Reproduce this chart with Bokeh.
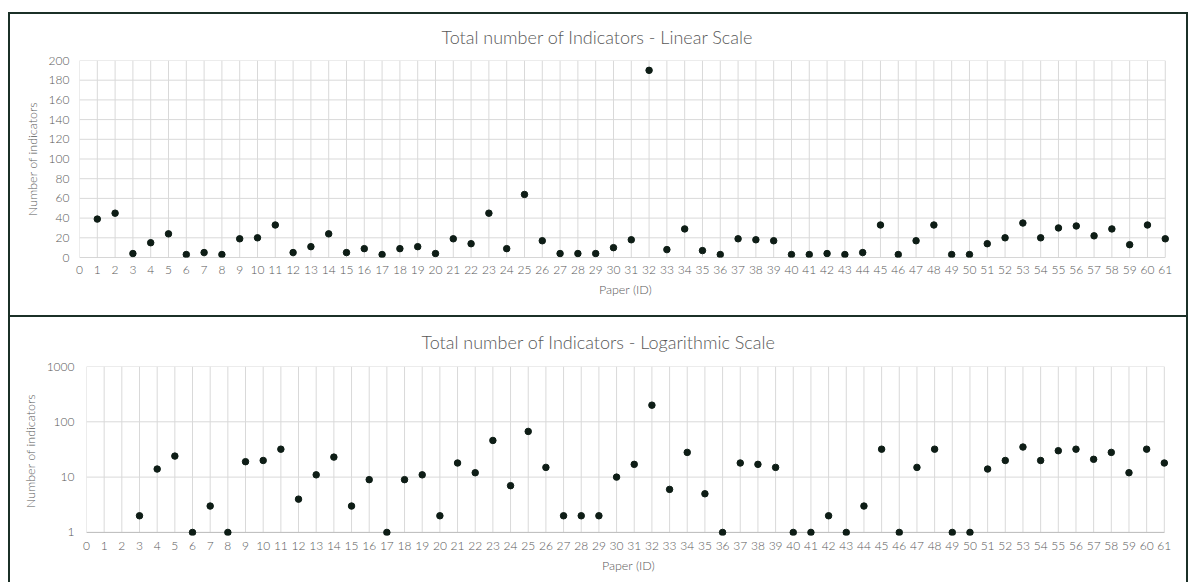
from bokeh.plotting import figure
from bokeh.layouts import column
from bokeh.models import Range1d, FixedTicker, PrintfTickFormatter
from bokeh.embed import file_html
from bokeh.resources import INLINE

# Indicators per paper, as plotted on the linear chart
papers = list(range(1, 62))
linear_counts = [39, 45, 4, 15, 24, 3, 5, 3, 19, 20,
                 33, 5, 11, 24, 5, 9, 3, 9, 11, 4,
                 19, 14, 45, 9, 64, 17, 4, 4, 4, 10,
                 18, 190, 8, 29, 7, 3, 19, 18, 17, 3,
                 3, 4, 3, 5, 33, 3, 17, 33, 3, 3,
                 14, 20, 35, 20, 30, 32, 22, 29, 13, 33, 19]

# Indicators per paper, as plotted on the logarithmic chart (papers 3-61)
log_papers = list(range(3, 62))
log_counts = [2, 14, 24, 1, 3, 1, 19, 20,
              32, 4, 11, 23, 3, 9, 1, 9, 11, 2,
              18, 12, 46, 7, 67, 15, 2, 2, 2, 10,
              17, 200, 6, 28, 5, 1, 18, 17, 15, 1,
              1, 2, 1, 3, 32, 1, 15, 32, 1, 1,
              14, 20, 35, 20, 30, 32, 21, 28, 12, 32, 18]

x_ticks = list(range(0, 62))
linear_ticks = list(range(0, 201, 20))
log_ticks = [1, 10, 100, 1000]

TEXT = "#595959"
GRID = "#d9d9d9"
AXIS = "#bfbfbf"
DOT = "#0e1d16"
FRAME = "#1b3027"
FONT = "'Lato Light', Lato"
X_END = 61.35
WIDTH = 1176


def panel(title, xs, ys, yticks, y_lo, log, height, borders, title_offset,
          title_standoff, label_standoff_x, label_standoff_y):
    p = figure(
        width=WIDTH, height=height,
        x_range=Range1d(0, X_END), y_range=Range1d(y_lo, yticks[-1]),
        y_axis_type="log" if log else "linear",
        output_backend="svg", toolbar_location=None,
        min_border_left=borders[0], min_border_right=borders[1],
        min_border_top=borders[2], min_border_bottom=borders[3],
        background_fill_color="white", border_fill_color="white",
        outline_line_color=None, frame_align=False,
    )
    p.xgrid.visible = False
    p.ygrid.visible = False

    n = len(x_ticks)
    m = len(yticks)
    # gridlines bounded by the first and last tick on each axis
    p.segment(x0=x_ticks, y0=[yticks[0]] * n, x1=x_ticks, y1=[yticks[-1]] * n,
              line_color=GRID, line_width=1)
    p.segment(x0=[x_ticks[0]] * m, y0=yticks, x1=[x_ticks[-1]] * m, y1=yticks,
              line_color=GRID, line_width=1)
    # category axis baseline
    p.segment(x0=[x_ticks[0]], y0=[yticks[0]], x1=[x_ticks[-1]], y1=[yticks[0]],
              line_color=AXIS, line_width=1)

    p.scatter(xs, ys, size=6.5, color=DOT, line_color=DOT)

    p.xaxis.ticker = FixedTicker(ticks=x_ticks)
    p.yaxis.ticker = FixedTicker(ticks=yticks, minor_ticks=[])
    p.yaxis.formatter = PrintfTickFormatter(format="%d")
    for ax in (p.xaxis[0], p.yaxis[0]):
        ax.axis_line_color = None
        ax.major_tick_line_color = None
        ax.minor_tick_line_color = None
        ax.major_tick_out = 0
        ax.major_label_text_color = TEXT
        ax.major_label_text_font = FONT
        ax.major_label_text_font_size = "12px"
        ax.axis_label_text_color = TEXT
        ax.axis_label_text_font = FONT
        ax.axis_label_text_font_size = "12.5px"
        ax.axis_label_text_font_style = "normal"
    p.xaxis.axis_label = "Paper (ID)"
    p.yaxis.axis_label = "Number of indicators"
    p.xaxis.major_label_standoff = label_standoff_x
    p.yaxis.major_label_standoff = label_standoff_y
    p.xaxis.axis_label_standoff = 5
    p.yaxis.axis_label_standoff = 6

    # chart title, placed so that it sits centred on the whole chart area
    p.title.text = title
    p.title.align = "left"
    p.title.vertical_align = "top"
    p.title.offset = title_offset
    p.title.standoff = title_standoff
    p.title.text_font = FONT
    p.title.text_font_size = "18px"
    p.title.text_font_style = "normal"
    p.title.text_color = TEXT
    return p


top = panel("Total number of Indicators - Linear Scale", papers, linear_counts,
            linear_ticks, 0, False, 301, (69, 15, 46, 58), 362, 22, 8, 10)
top.styles = {"box-shadow": f"0 0 0 2px {FRAME}"}

bottom = panel("Total number of Indicators - Logarithmic Scale", log_papers, log_counts,
               log_ticks, 0.88, True, 265, (76, 16, 49, 47), 335, 24, 6, 12)
bottom.styles = {"box-shadow": f"-2px 0 0 0 {FRAME}, 2px 0 0 0 {FRAME}"}

page = column(top, bottom, spacing=2,
              styles={"margin-left": "10px", "margin-top": "14px"})

open("out.html", "w").write(file_html(page, INLINE))
